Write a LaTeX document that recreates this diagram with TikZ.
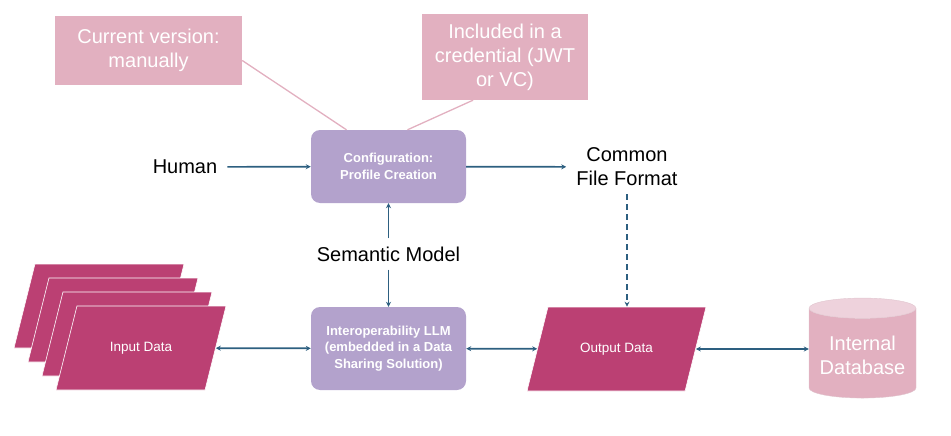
\documentclass[tikz,border=0pt]{standalone}
\usepackage{fontspec}
\setmainfont{Liberation Sans}
\usetikzlibrary{shapes.geometric,arrows.meta}
\definecolor{notepink}{HTML}{E2B0C0}
\definecolor{dbtop}{HTML}{EED2DC}
\definecolor{lavender}{HTML}{B3A2CC}
\definecolor{datamag}{HTML}{BB4073}
\definecolor{flowblue}{HTML}{2D5F80}
\tikzset{%
  notebox/.style  = {shape=rectangle, fill=notepink, text=white,%
                     align=center, font=\fontsize{20}{24}\selectfont},%
  procbox/.style  = {shape=rectangle, rounded corners=9pt, fill=lavender,%
                     text=white, align=center, minimum width=155pt,%
                     font=\fontsize{13}{16.5}\selectfont\bfseries},%
  databox/.style  = {trapezium, trapezium left angle=76,%
                     trapezium right angle=104, trapezium stretches body,%
                     fill=datamag, draw=white, line width=0.6pt, text=white,%
                     text height=9pt, text depth=3pt, inner ysep=36pt,%
                     inner xsep=0pt, font=\fontsize{13.5}{16}\selectfont},%
  dbnode/.style   = {cylinder, shape border rotate=90, aspect=0.22,%
                     cylinder uses custom fill, cylinder body fill=notepink,%
                     cylinder end fill=dbtop, draw=notepink!90!black!60,%
                     line width=0.4pt, text=white, align=center,%
                     minimum width=107pt, minimum height=100pt,%
                     font=\fontsize{20}{24}\selectfont},%
  plain/.style    = {align=center, inner xsep=10pt, inner ysep=8pt,%
                     font=\fontsize{20}{24}\selectfont},%
  flow/.style     = {draw=flowblue, line width=1.7pt,%
                     -{Stealth[length=5pt,width=5pt]}},%
  bothflow/.style = {flow, {Stealth[length=5pt,width=5pt]}-{Stealth[length=5pt,width=5pt]}},%
  noteline/.style = {draw=notepink, line width=1.3pt}%
}

\begin{document}
\begin{tikzpicture}[x=1pt, y=-1pt]
  \useasboundingbox (0,0) rectangle (951,436);
  % notes
  \node[notebox, minimum width=187pt, minimum height=69pt] (manual) at (148.5,50.5)
       {Current version:\\manually};
  \node[notebox, minimum width=166pt, minimum height=86pt] (cred) at (505,57)
       {Included in a\\credential (JWT\\or VC)};
  % processing
  \node[procbox, minimum height=73pt] (config) at (388.5,166.5)
       {Configuration:\\Profile Creation};
  \node[procbox, minimum height=83pt] (llm) at (388.5,348.5)
       {Interoperability LLM\\(embedded in a Data\\Sharing Solution)};
  % plain labels
  \node[plain] (human) at (185,167) {Human};
  \node[plain] (cff)   at (627,167) {Common\\File Format};
  \node[plain] (sem)   at (388.5,254) {Semantic Model};
  % data
  \foreach \k in {3,2,1}
    \node[databox, minimum width=170pt] (input\k) at (141-14*\k,348-14*\k) {};
  \node[databox, minimum width=170pt] (input) at (141,348) {Input Data};
  \node[databox, minimum width=179pt] (out) at (616.5,349) {Output Data};
  \node[dbnode] (db) at (862.5,355) {Internal\\Database};
  % connectors
  \draw[noteline] ([yshift=-10pt]manual.east) -- ([xshift=-42pt]config.north);
  \draw[noteline] ([xshift=-32pt]cred.south) -- ([xshift=19pt]config.north);
  \draw[flow] (human) -- (config);
  \draw[flow] (config) -- (cff);
  \draw[flow] (sem) -- (config);
  \draw[flow] (sem) -- (llm);
  \draw[flow, dash pattern=on 6pt off 4pt] (cff.south) -- (cff.south |- out.north);
  \draw[bothflow] (input) -- (llm);
  \draw[bothflow] (llm) -- (out);
  \draw[bothflow] (out.east) -- (out.east -| db.west);
\end{tikzpicture}
\end{document}
